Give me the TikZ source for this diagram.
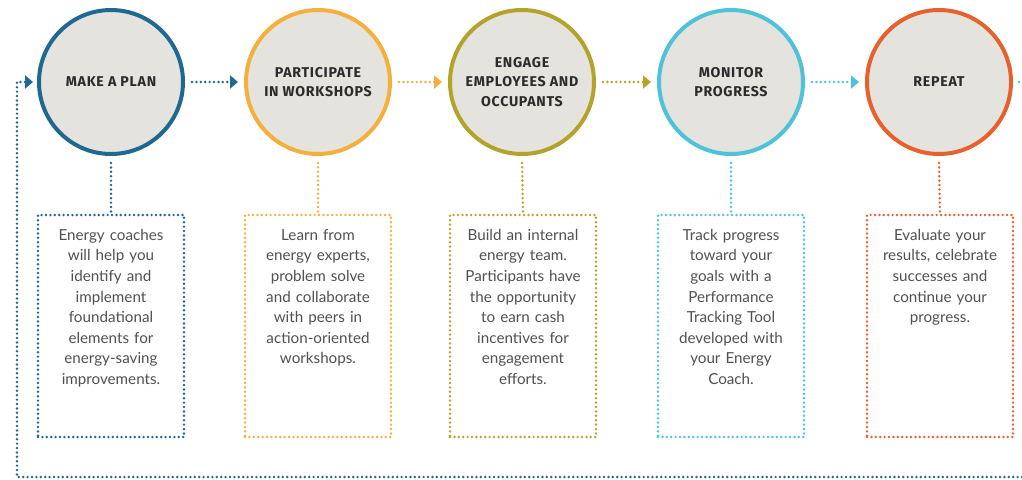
\documentclass[tikz,border=0pt]{standalone}
\usepackage{fontspec}
\setmainfont{Lato}
\newfontfamily\titlefont{Fira Sans}[LetterSpace=5]
\usetikzlibrary{arrows.meta}
\definecolor{cblue}{HTML}{1E6891}
\definecolor{cyel}{HTML}{F3B03D}
\definecolor{coli}{HTML}{B3A32A}
\definecolor{ccya}{HTML}{4EC2D8}
\definecolor{cred}{HTML}{E5622E}
\definecolor{cfill}{HTML}{E4E3DD}
\definecolor{ctext}{HTML}{2B2B2B}
\definecolor{cbody}{HTML}{505050}
\begin{document}
\begin{tikzpicture}[x=1pt,y=-1pt,
 stepcircle/.style={circle, draw=#1, line width=4pt, fill=cfill, minimum size=144pt, inner sep=0pt, font=\titlefont\bfseries\fontsize{14.2}{19.5}\selectfont, text=ctext, align=center},
 dotline/.style={draw=#1, line width=2.7pt, line cap=round, dash pattern=on 0pt off 4.4pt},
 infobox/.style={dotline=#1, rectangle, minimum width=146pt, minimum height=222pt, inner sep=0pt},
 infotext/.style={anchor=north, text width=140pt, align=center, font=\fontsize{15.2}{20.6}\selectfont, text=cbody, inner sep=0pt},
 flowarrow/.style={dotline=#1, -{Triangle[length=8pt,width=13pt]}},
]
\useasboundingbox (0,0) rectangle (1022,479);

% circles
\node[stepcircle=cblue] (c1) at (111,82) {MAKE A PLAN};
\node[stepcircle=cyel]  (c2) at (318,82) {PARTICIPATE\\IN WORKSHOPS};
\node[stepcircle=coli]  (c3) at (522,82) {ENGAGE\\EMPLOYEES AND\\OCCUPANTS};
\node[stepcircle=ccya]  (c4) at (731,82) {MONITOR\\PROGRESS};
\node[stepcircle=cred]  (c5) at (939,82) {REPEAT};

% boxes
\node[infobox=cblue] (b1) at (111,326) {};
\node[infobox=cyel]  (b2) at (318,326) {};
\node[infobox=coli]  (b3) at (523,326) {};
\node[infobox=ccya]  (b4) at (731,326) {};
\node[infobox=cred]  (b5) at (940,326) {};

\node[infotext] (t1) at (111,229) {Energy coaches\\will help you\\identify and\\implement\\foundational\\elements for\\energy-saving\\improvements.};
\node[infotext] (t2) at (318,229) {Learn from\\energy experts,\\problem solve\\and collaborate\\with peers in\\action-oriented\\workshops.};
\node[infotext] (t3) at (523,229) {Build an internal\\energy team.\\Participants have\\the opportunity\\to earn cash\\incentives for\\engagement\\efforts.};
\node[infotext] (t4) at (731,229) {Track progress\\toward your\\goals with a\\Performance\\Tracking Tool\\developed with\\your Energy\\Coach.};
\node[infotext] (t5) at (940,229) {Evaluate your\\results, celebrate\\successes and\\continue your\\progress.};

% flow arrows
\draw[flowarrow=cblue] ([xshift=7pt]c1.east) -- ([xshift=-6pt]c2.west);
\draw[flowarrow=cyel]  ([xshift=7pt]c2.east) -- ([xshift=-6pt]c3.west);
\draw[flowarrow=coli]  ([xshift=7pt]c3.east) -- ([xshift=-6pt]c4.west);
\draw[flowarrow=ccya]  ([xshift=7pt]c4.east) -- ([xshift=-6pt]c5.west);

% circle to box connectors
\draw[dotline=cblue] ([yshift=-7pt]c1.south) -- (b1.north);
\draw[dotline=cyel]  ([yshift=-7pt]c2.south) -- (b2.north);
\draw[dotline=coli]  ([yshift=-7pt]c3.south) -- (b3.north);
\draw[dotline=ccya]  ([yshift=-7pt]c4.south) -- (b4.north);
\draw[dotline=cred]  ([yshift=-7pt]c5.south) -- (b5.north);

% repeat loop
\coordinate (re) at (1022,82);
\coordinate (rb) at (1022,477);
\coordinate (lb) at (17,477);
\coordinate (ls) at (17,82);
\draw[dotline=ccya] ([xshift=6pt]c5.east) -- (re);
\draw[flowarrow=cblue] (rb) -- (lb) -- (ls) -- ([xshift=-4pt]c1.west);
\end{tikzpicture}
\end{document}
